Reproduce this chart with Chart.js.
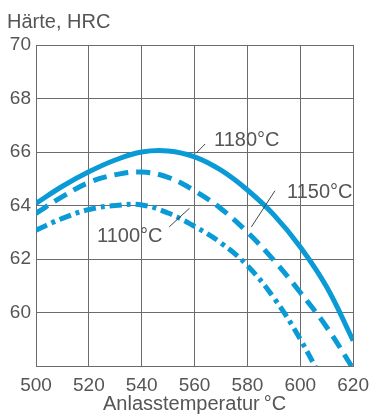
<!DOCTYPE html>
<html>
<head>
<meta charset="utf-8">
<script src="https://cdn.jsdelivr.net/npm/chart.js@4"></script>
<style>
  html, body { margin: 0; padding: 0; background: #fff; }
  #wrap { width: 377px; height: 416px; position: relative; }
</style>
</head>
<body>
<div id="wrap"><canvas id="chart"></canvas></div>
<script>
// Anlasstemperatur (°C) and hardness readings per hardening temperature
const temps = [500, 510, 520, 530, 540, 550, 560, 570, 580, 590, 600, 610, 620];
const hrc1180 = [64.08, 64.72, 65.26, 65.7, 66.0, 66.04, 65.82, 65.32, 64.58, 63.65, 62.45, 60.95, 58.95];
const hrc1150 = [63.71, 64.33, 64.86, 65.15, 65.25, 65.05, 64.55, 63.88, 63.0, 61.95, 60.75, 59.45, 57.9];
const hrc1100 = [63.08, 63.52, 63.85, 64.0, 64.02, 63.72, 63.22, 62.6, 61.75, 60.55, 59.0, 57.1, 55.0];
const seriesNames = ['1180°C', '1150°C', '1100°C'];
const xTicks = [500, 520, 540, 560, 580, 600, 620];
const yTicks = [60, 62, 64, 66, 68, 70];

const blue = '#0a9bd7';
const textColor = '#555';
const gridColor = '#6b6b6b';
const font = 'Liberation Sans, Arial, Helvetica, sans-serif';

function pts(ys) {
    return temps.map((t, i) => ({ x: t, y: ys[i] }));
}

// curve labels with short leader lines, given in data units
const curveLabels = [
    { text: seriesNames[0], from: [560.5, 65.95], to: [564, 66.3], tx: 214, ty: 140 },
    { text: seriesNames[1], from: [581.5, 63.2], to: [590.4, 64.55], tx: 287, ty: 192 },
    { text: seriesNames[2], from: [550.4, 63.2], to: [558.1, 63.9], tx: 97, ty: 236 }
];

const labelPlugin = {
    id: 'curveLabels',
    afterDraw(chart) {
        const ctx = chart.ctx;
        const xs = chart.scales.x, ys = chart.scales.y;
        ctx.save();
        // axis title at the top left
        ctx.fillStyle = textColor;
        ctx.font = '20px ' + font;
        ctx.textBaseline = 'middle';
        ctx.textAlign = 'left';
        ctx.fillText('Härte, HRC', 7, 22);

        ctx.strokeStyle = '#444';
        ctx.lineWidth = 1;
        curveLabels.forEach(l => {
            ctx.beginPath();
            ctx.moveTo(xs.getPixelForValue(l.from[0]), ys.getPixelForValue(l.from[1]));
            ctx.lineTo(xs.getPixelForValue(l.to[0]), ys.getPixelForValue(l.to[1]));
            ctx.stroke();
            ctx.fillText(l.text, l.tx, l.ty);
        });
        ctx.restore();
    }
};

const common = {
    borderColor: blue, borderWidth: 5, pointRadius: 0, fill: false,
    tension: 0.4, borderCapStyle: 'butt'
};

new Chart(document.getElementById('chart'), {
    type: 'line',
    data: {
        datasets: [
            Object.assign({ label: seriesNames[0], data: pts(hrc1180) }, common),
            Object.assign({ label: seriesNames[1], data: pts(hrc1150), borderDash: [14, 8] }, common),
            Object.assign({ label: seriesNames[2], data: pts(hrc1100), borderDash: [12, 5, 4, 5] }, common)
        ]
    },
    options: {
        responsive: true,
        maintainAspectRatio: false,
        animation: false,
        layout: { padding: { top: 45, right: 17, left: 0, bottom: 0 } },
        plugins: { legend: { display: false }, tooltip: { enabled: false } },
        scales: {
            x: {
                type: 'linear',
                min: 500, max: 620,
                afterFit(s) { s.height = 50; },
                afterBuildTicks(s) { s.ticks = xTicks.map(v => ({ value: v })); },
                grid: { color: gridColor, lineWidth: 1, drawTicks: false },
                border: { color: gridColor, width: 1 },
                ticks: { color: textColor, font: { family: font, size: 19 }, padding: 8, maxRotation: 0 },
                title: {
                    display: true, text: 'Anlasstemperatur\u2009°C', color: textColor,
                    font: { family: font, size: 20 }, padding: { top: 0, bottom: 0 }
                }
            },
            y: {
                min: 58, max: 70,
                afterFit(s) { s.width = 36; },
                afterBuildTicks(s) { s.ticks = [58].concat(yTicks).map(v => ({ value: v })); },
                grid: { color: gridColor, lineWidth: 1, drawTicks: false },
                border: { color: gridColor, width: 1 },
                ticks: {
                    color: textColor, font: { family: font, size: 19 }, padding: 5,
                    callback: v => (yTicks.includes(v) ? String(v) : '')
                }
            }
        }
    },
    plugins: [labelPlugin]
});
</script>
</body>
</html>
